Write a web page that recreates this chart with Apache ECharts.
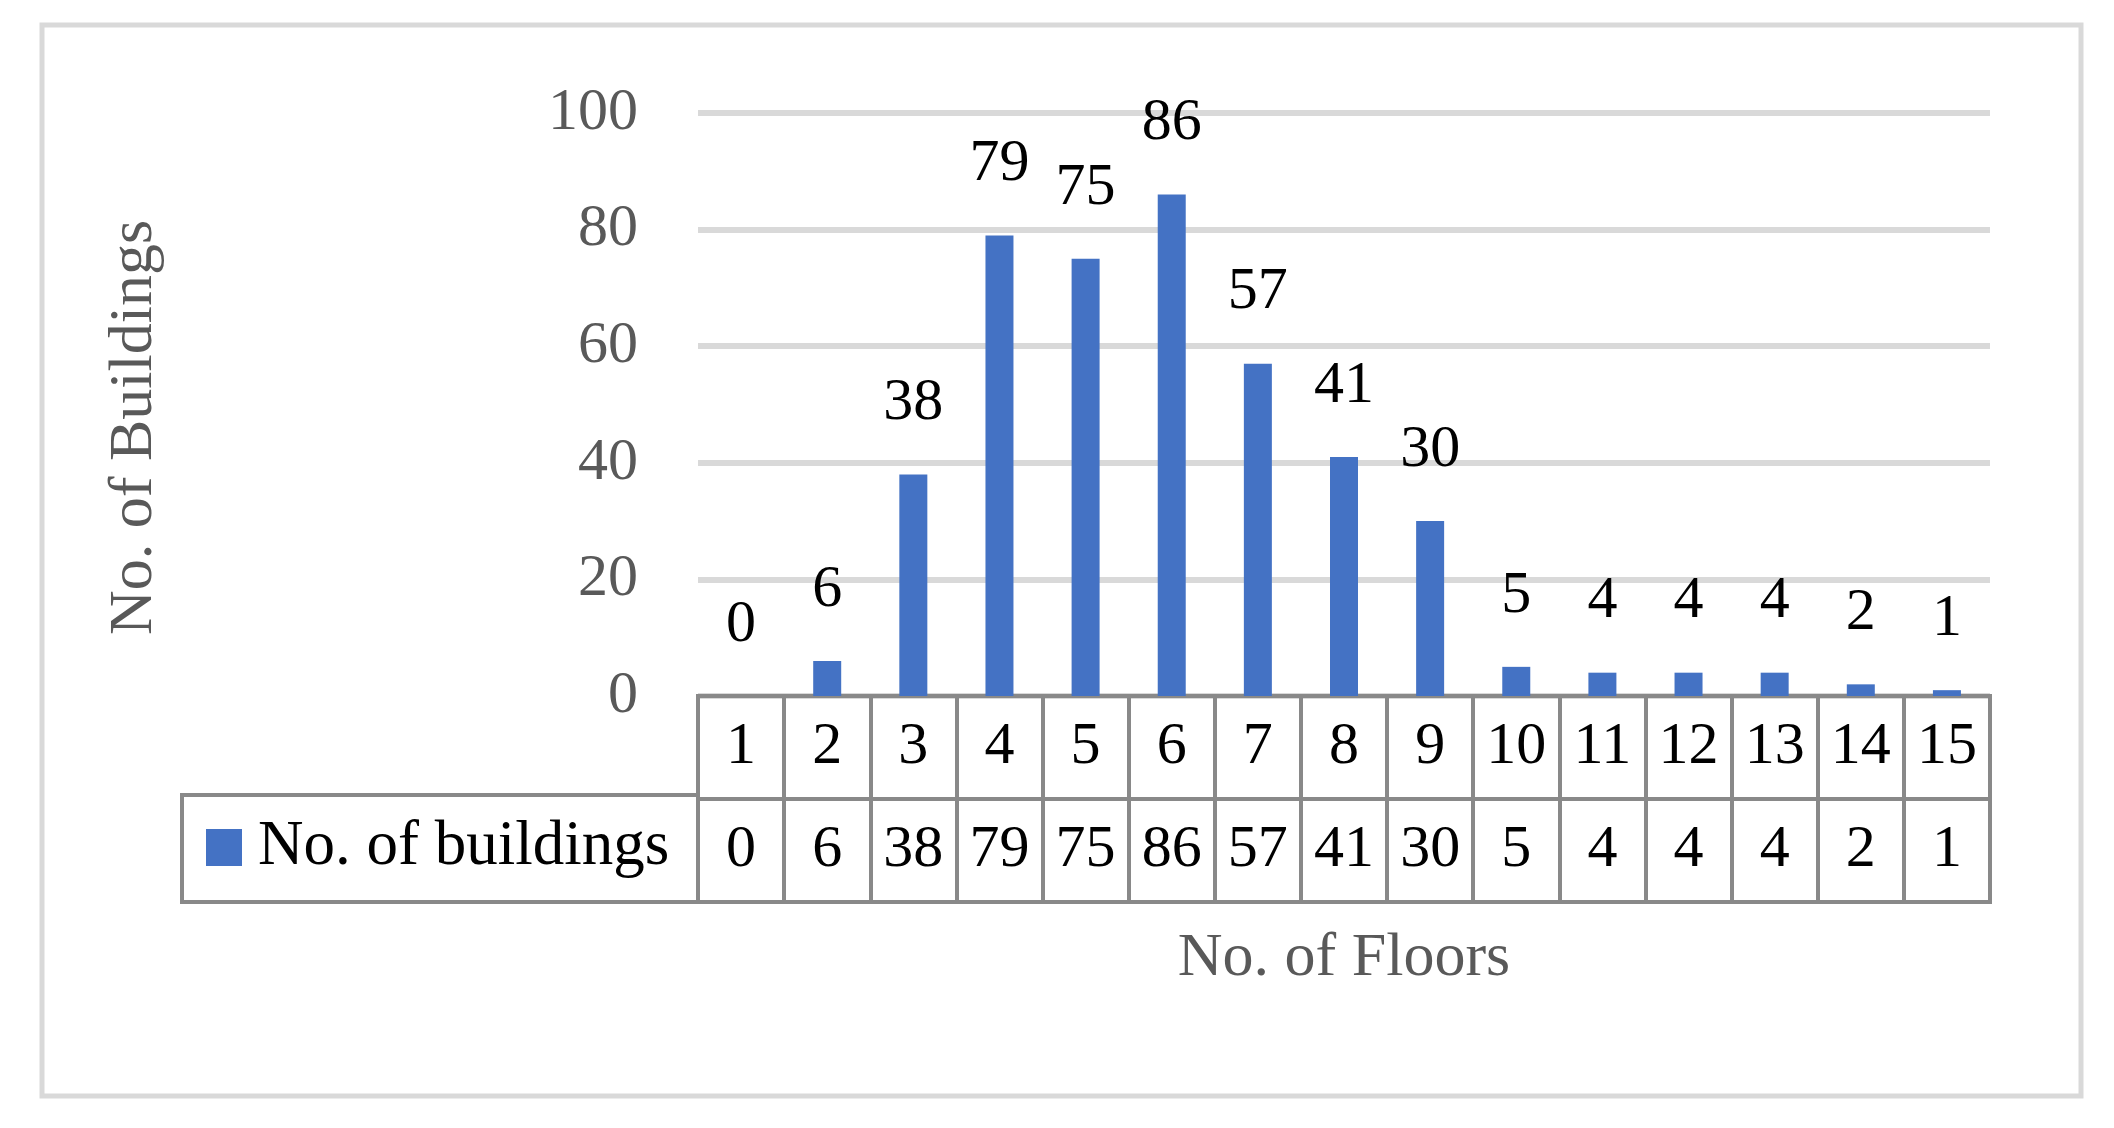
<!DOCTYPE html>
<html>
<head>
<meta charset="utf-8">
<script src="https://cdn.jsdelivr.net/npm/echarts@6/dist/echarts.min.js"></script>
<style>
html,body{margin:0;padding:0;background:#fff;}
#chart{width:2114px;height:1128px;}
</style>
</head>
<body>
<div id="chart"></div>
<script>
const categories = ['1','2','3','4','5','6','7','8','9','10','11','12','13','14','15'];
const buildings = [0, 6, 38, 79, 75, 86, 57, 41, 30, 5, 4, 4, 4, 2, 1];
const seriesName = 'No. of buildings';
const tableRows = ['values', 'floors'];
const yMin = 0, yMax = 100, yInterval = 20;

const FONT = '"Liberation Serif", "DejaVu Serif", serif';
const tableCells = [];
categories.forEach((c, i) => { tableCells.push([i, 1, c]); tableCells.push([i, 0, buildings[i]]); });

const chart = echarts.init(document.getElementById('chart'), null, {renderer: 'canvas'});
chart.setOption({
  animation: false,
  backgroundColor: '#fff',
  graphic: [{
    type: 'rect', silent: true, z: -10,
    shape: {x: 42, y: 25, width: 2039, height: 1071},
    style: {fill: 'none', stroke: '#d9d9d9', lineWidth: 5}
  }],
  legend: {
    data: [seriesName],
    left: 206, top: 816, padding: 0,
    itemWidth: 36, itemHeight: 37, icon: 'rect',
    textStyle: {fontSize: 63, color: '#000', fontFamily: FONT, padding: [0, 0, 0, 11]}
  },
  grid: [
    {left: 698, width: 1292, top: 113, height: 583, containLabel: false},
    {left: 698, width: 1292, top: 696, height: 206, show: true, borderColor: '#898989', borderWidth: 4, backgroundColor: 'transparent'},
    {left: 182, width: 516, top: 795, height: 107, show: true, borderColor: '#898989', borderWidth: 4, backgroundColor: 'transparent'}
  ],
  xAxis: [
    {type: 'category', gridIndex: 0, data: categories, axisLine: {show: false}, axisTick: {show: false}, axisLabel: {show: false}, splitLine: {show: false}},
    {type: 'category', gridIndex: 1, data: categories, axisLine: {show: false}, axisTick: {show: false}, axisLabel: {show: false},
      splitLine: {show: true, interval: 0, lineStyle: {color: '#898989', width: 4}},
      name: 'No. of Floors', nameLocation: 'middle', nameGap: 26,
      nameTextStyle: {fontSize: 62, color: '#595959', fontFamily: FONT}},
    {type: 'value', gridIndex: 2, show: false}
  ],
  yAxis: [
    {type: 'value', gridIndex: 0, min: yMin, max: yMax, interval: yInterval,
      axisLine: {show: false}, axisTick: {show: false},
      axisLabel: {margin: 60, fontSize: 60, color: '#595959', fontFamily: FONT},
      splitLine: {show: true, lineStyle: {color: '#d9d9d9', width: 6}},
      name: 'No. of Buildings', nameLocation: 'middle', nameRotate: 90, nameGap: 532,
      nameTextStyle: {fontSize: 62, color: '#595959', fontFamily: FONT, padding: [0, 46, 0, 0]}},
    {type: 'category', gridIndex: 1, data: tableRows, axisLine: {show: false}, axisTick: {show: false}, axisLabel: {show: false},
      splitLine: {show: true, interval: 0, lineStyle: {color: '#898989', width: 4}}},
    {type: 'value', gridIndex: 2, show: false}
  ],
  series: [
    {
      name: seriesName, type: 'bar', xAxisIndex: 0, yAxisIndex: 0,
      data: buildings, barWidth: 28,
      itemStyle: {color: '#4472c4'},
      label: {show: true, position: 'top', distance: 41, fontSize: 60, color: '#000', fontFamily: FONT}
    },
    {
      type: 'custom', xAxisIndex: 1, yAxisIndex: 1, silent: true,
      data: tableCells.map(c => [c[0], c[1]]),
      renderItem: function (params, api) {
        const c = tableCells[params.dataIndex];
        const p = api.coord([c[0], c[1]]);
        return {
          type: 'text', x: p[0], y: p[1],
          style: {text: String(c[2]), fill: '#000', fontSize: 60, fontFamily: FONT, align: 'center', verticalAlign: 'middle'}
        };
      }
    }
  ]
});
</script>
</body>
</html>
